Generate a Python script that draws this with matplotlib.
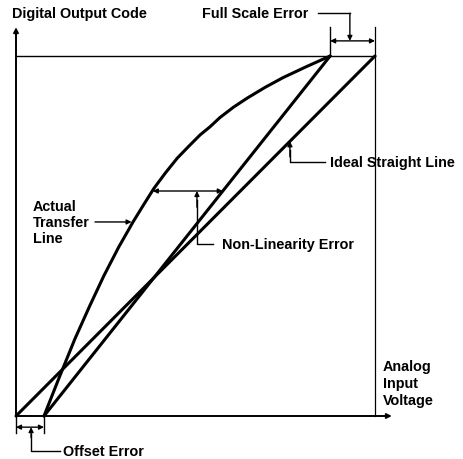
# ADC transfer characteristic - error definitions
import numpy as np
import matplotlib.pyplot as plt

plt.rcParams['font.family'] = ['Liberation Sans', 'DejaVu Sans']

# normalized input (0..1 full scale) vs normalized output code (0..1)
ideal_x = [0.0, 1.0]
ideal_y = [0.0, 1.0]

offset_err = 0.078      # zero point shift
full_scale_x = 0.875    # where the actual line reaches full scale

fit_x = [offset_err, full_scale_x]
fit_y = [0.0, 1.0]

curve_x = [0.078, 0.120, 0.164, 0.205, 0.245, 0.286, 0.326, 0.355, 0.384,
           0.416, 0.449, 0.481, 0.513, 0.540, 0.568, 0.606, 0.644, 0.694,
           0.744, 0.808, 0.875]
curve_y = [0.000, 0.106, 0.214, 0.305, 0.390, 0.469, 0.539, 0.586, 0.632,
           0.675, 0.716, 0.749, 0.781, 0.803, 0.829, 0.858, 0.883, 0.913,
           0.940, 0.970, 1.000]

fig = plt.figure(figsize=(4.64, 4.60), dpi=100)
ax = fig.add_axes([0, 0, 1, 1])
ax.set_xlim(-16/359, 448/359)
ax.set_ylim(-43/360, 417/360)
ax.axis('off')

k = 'black'
arr = dict(arrowstyle='-|>', mutation_scale=7, lw=1.0, color=k, shrinkA=0, shrinkB=0)
dim = dict(arrowstyle='<|-|>', mutation_scale=7, lw=1.0, color=k, shrinkA=0, shrinkB=0)

# axes with arrows
ax.annotate('', xy=(0, 1.08), xytext=(0, 0), arrowprops=dict(arr, lw=1.4))
ax.annotate('', xy=(1.047, 0), xytext=(0, 0), arrowprops=dict(arr, lw=1.4))
# full scale frame
ax.plot([0, 1], [1, 1], color=k, lw=1.0)
ax.plot([1, 1], [0, 1.08], color=k, lw=0.9)

# transfer lines
ax.plot(ideal_x, ideal_y, color=k, lw=2.2, solid_capstyle='round')
ax.plot(fit_x, fit_y, color=k, lw=2.2, solid_capstyle='round')
ax.plot(curve_x, curve_y, color=k, lw=2.2, solid_capstyle='round', solid_joinstyle='round')

fs = 10.4
tb = dict(fontsize=fs, fontweight='bold', color=k, va='center', ha='left')

ax.text(-0.011, 1.119, 'Digital Output Code', **tb)
ax.text(1.022, 0.092, 'Analog\nInput\nVoltage', linespacing=1.3, **tb)

# full scale error
ax.plot([full_scale_x, full_scale_x], [1, 1.08], color=k, lw=1.0)
ax.annotate('', xy=(full_scale_x, 1.042), xytext=(1, 1.042), arrowprops=dim)
ax.plot([0.841, 0.930], [1.119, 1.119], color=k, lw=1.0)
ax.annotate('', xy=(0.930, 1.042), xytext=(0.930, 1.119), arrowprops=arr)
ax.text(0.518, 1.119, 'Full Scale Error', **tb)

# ideal straight line label
ax.plot([0.763, 0.763, 0.861], [0.74, 0.706, 0.706], color=k, lw=1.0)
ax.annotate('', xy=(0.763, 0.763), xytext=(0.763, 0.72), arrowprops=arr)
ax.text(0.875, 0.706, 'Ideal Straight Line', **tb)

# actual transfer line label
ax.text(0.047, 0.539, 'Actual\nTransfer\nLine', linespacing=1.2, **tb)
ax.annotate('', xy=(0.322, 0.539), xytext=(0.22, 0.539), arrowprops=arr)

# non-linearity error
ax.annotate('', xy=(0.381, 0.625), xytext=(0.576, 0.625), arrowprops=dim)
ax.plot([0.504, 0.504, 0.549], [0.60, 0.478, 0.478], color=k, lw=1.0)
ax.annotate('', xy=(0.504, 0.625), xytext=(0.504, 0.58), arrowprops=arr)
ax.text(0.574, 0.478, 'Non-Linearity Error', **tb)

# offset error
ax.plot([0, 0], [0, -0.047], color=k, lw=1.0)
ax.plot([offset_err, offset_err], [0, -0.047], color=k, lw=1.0)
ax.annotate('', xy=(0, -0.031), xytext=(offset_err, -0.031), arrowprops=dim)
ax.plot([0.042, 0.042, 0.123], [-0.05, -0.097, -0.097], color=k, lw=1.0)
ax.annotate('', xy=(0.042, -0.031), xytext=(0.042, -0.06), arrowprops=arr)
ax.text(0.131, -0.097, 'Offset Error', **tb)

fig.savefig('out.png', dpi=100)
